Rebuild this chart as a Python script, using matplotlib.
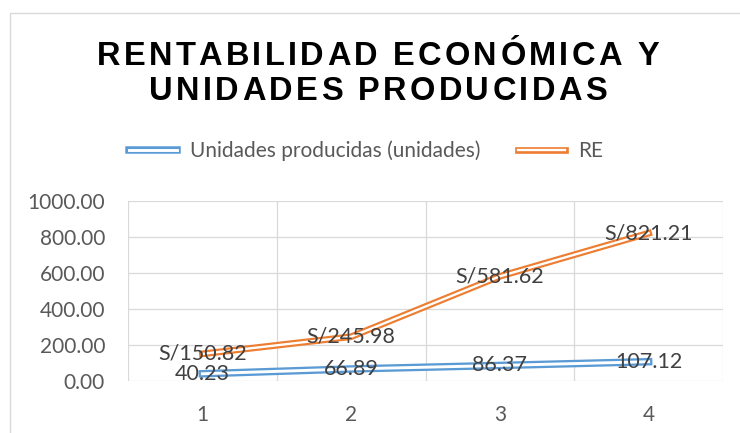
import matplotlib
matplotlib.use("Agg")
import matplotlib.pyplot as plt
import matplotlib.patheffects as pe
from matplotlib.font_manager import FontProperties
from matplotlib.patches import Rectangle

# data
periods = [1, 2, 3, 4]
unidades = [40.23, 66.89, 86.37, 107.12]
re_values = [150.82, 245.98, 581.62, 821.21]
unidades_labels = ["40.23", "66.89", "86.37", "107.12"]
re_labels = ["S/150.82", "S/245.98", "S/581.62", "S/821.21"]
title_lines = ["RENTABILIDAD ECONÓMICA Y", "UNIDADES PRODUCIDAS"]
series_names = ["Unidades producidas (unidades)", "RE"]
yticks = [0, 200, 400, 600, 800, 1000]

BLUE = "#5B9BD5"
ORANGE = "#ED7D31"
W, H = 740, 433

fig = plt.figure(figsize=(W / 100, H / 100), dpi=100)
fig.patches.append(Rectangle((10 / W, -0.1), 1.2, (H - 13) / H + 0.1,
                             transform=fig.transFigure, fill=False,
                             edgecolor="#d9d9d9", linewidth=1.0))

ax = fig.add_axes([128 / W, 52 / H, 595 / W, 180 / H])
ax.set_xlim(0.5, 4.5)
ax.set_ylim(0, 1000)

# gridlines
for y in yticks:
    ax.axhline(y, color="#d9d9d9", linewidth=0.9, zorder=0)
for x in [0.5, 1.5, 2.5, 3.5, 4.5]:
    ax.axvline(x, color="#d9d9d9", linewidth=0.9, zorder=0)
for s in ax.spines.values():
    s.set_visible(False)


def double(color, outer, inner):
    return dict(color="white", linewidth=inner,
                path_effects=[pe.Stroke(linewidth=outer, foreground=color), pe.Normal()])


l1, = ax.plot(periods, unidades, label=series_names[0], zorder=3, **double(BLUE, 5.4, 2.1))
l2, = ax.plot(periods, re_values, label=series_names[1], zorder=3, **double(ORANGE, 4.8, 1.7))

label_font = dict(family="Lato", fontsize=15.5, color="#404040", ha="center", va="center", zorder=5)
for x, y, t in zip(periods, unidades, unidades_labels):
    ax.text(x, y, t, **label_font)
for x, y, t in zip(periods, re_values, re_labels):
    ax.text(x, y, t, **label_font)

ax.set_xticks(periods)
ax.set_yticks(yticks)
ax.set_yticklabels([f"{v:.2f}" for v in yticks])
ax.tick_params(length=0, labelsize=15, labelcolor="#595959")
ax.tick_params(axis="x", pad=17)
ax.tick_params(axis="y", pad=16.5)
for lab in ax.get_xticklabels() + ax.get_yticklabels():
    lab.set_family("Lato")

leg = fig.legend(handles=[l1, l2], loc="center", bbox_to_anchor=(366 / W, 1 - 151 / H),
                 ncol=2, frameon=False, handlelength=2.3, handletextpad=0.6,
                 columnspacing=1.8, prop=FontProperties(family="Lato", size=15))
for t in leg.get_texts():
    t.set_color("#595959")

# title with letter spacing, placed char by char
renderer = fig.canvas.get_renderer()
tfont = FontProperties(family="Liberation Sans", weight="bold", size=23.5)
spacing = 3.3
for line, yc in zip(title_lines, [65, 100]):
    widths = [renderer.get_text_width_height_descent(ch, tfont, ismath=False)[0] for ch in line]
    total = sum(widths) + spacing * (len(line) - 1)
    x = 378 - total / 2
    for ch, w in zip(line, widths):
        fig.text(x / W, 1 - yc / H, ch, fontproperties=tfont, color="black",
                 ha="left", va="baseline")
        x += w + spacing

fig.savefig("out.png", dpi=100)
